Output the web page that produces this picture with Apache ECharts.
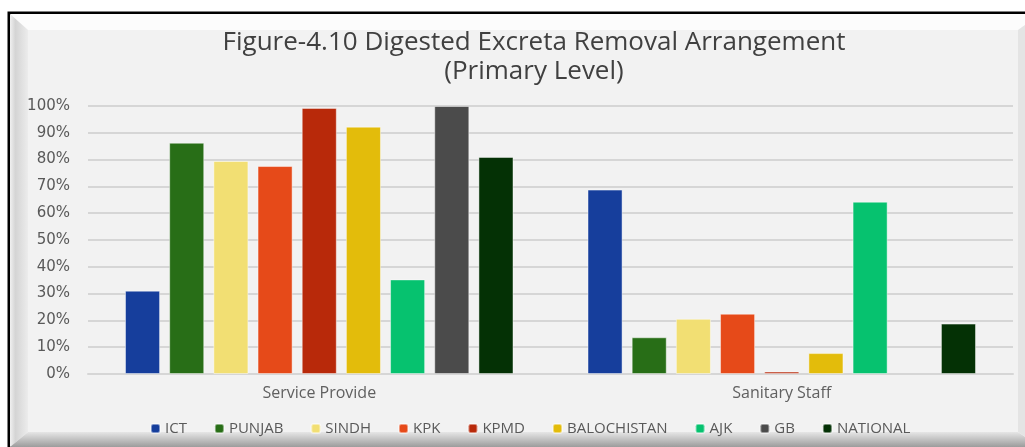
<!DOCTYPE html>
<html>
<head>
<meta charset="utf-8">
<script src="https://cdn.jsdelivr.net/npm/echarts@6/dist/echarts.min.js"></script>
<style>
  html, body { margin: 0; padding: 0; background: #fff; }
  #chart { width: 1025px; height: 447px; }
</style>
</head>
<body>
<div id="chart"></div>
<script>
var categories = ['Service Provide', 'Sanitary Staff'];
var regions = ['ICT', 'PUNJAB', 'SINDH', 'KPK', 'KPMD', 'BALOCHISTAN', 'AJK', 'GB', 'NATIONAL'];
var ictData = [31.1, 68.8];
var punjabData = [86.3, 13.7];
var sindhData = [79.5, 20.6];
var kpkData = [77.6, 22.5];
var kpmdData = [99.3, 0.9];
var balochistanData = [92.3, 7.8];
var ajkData = [35.3, 64.3];
var gbData = [100, '-'];
var nationalData = [81.0, 18.8];
var colors = ['#163e9c', '#286e17', '#f2df73', '#e64a19', '#b8290a', '#e3bc0b', '#06c26f', '#4b4b4b', '#043105'];

var seriesValues = [ictData, punjabData, sindhData, kpkData, kpmdData, balochistanData, ajkData, gbData, nationalData];
var FontColor = '#595959';

var series = [];
for (var i = 0; i < regions.length; i++) {
    series.push({
        name: regions[i],
        type: 'bar',
        data: seriesValues[i],
        barGap: '26%',
        barCategoryGap: '16%',
        itemStyle: {
            color: colors[i],
            borderColor: 'rgba(255,255,255,0.45)',
            borderWidth: 1
        }
    });
}

var option = {
    animation: false,
    backgroundColor: '#ffffff',
    color: colors,
    graphic: [
        // outer frame with bevel
        { type: 'rect', shape: { x: 9, y: 13, width: 1040, height: 440 }, style: { fill: '#f7f7f7', stroke: '#000', lineWidth: 3 }, z: -10 },
        { type: 'polygon', shape: { points: [[10, 14], [1040, 14], [1018, 30], [28, 30]] }, style: { fill: '#fcfcfc' }, z: -9 },
        { type: 'polygon', shape: { points: [[10, 14], [28, 30], [28, 432], [10, 447]] },
          style: { fill: { type: 'linear', x: 0, y: 0, x2: 1, y2: 0, colorStops: [
              { offset: 0, color: '#f0f0f0' }, { offset: 0.3, color: '#d4d4d4' }, { offset: 1, color: '#ececec' }] } }, z: -9 },
        { type: 'polygon', shape: { points: [[10, 447], [28, 432], [1018, 432], [1040, 447]] },
          style: { fill: { type: 'linear', x: 0, y: 0, x2: 0, y2: 1, colorStops: [
              { offset: 0, color: '#e6e6e6' }, { offset: 1, color: '#9c9c9c' }] } }, z: -9 },
        { type: 'polygon', shape: { points: [[1018, 30], [1040, 14], [1040, 447], [1018, 432]] }, style: { fill: '#e4e4e4' }, z: -9 },
        { type: 'rect', shape: { x: 28, y: 30, width: 990, height: 402 }, style: { fill: '#f2f2f2' }, z: -8 },
        // title
        { type: 'text', x: 534, y: 28, z: 10,
          style: { text: 'Figure-4.10 Digested Excreta Removal Arrangement\n(Primary Level)',
                   fill: '#404040', font: '26px "Open Sans"', align: 'center', verticalAlign: 'top', lineHeight: 29 } }
    ],
    grid: { left: 88, right: 12, top: 106, bottom: 73 },
    legend: {
        data: regions,
        top: 416,
        left: 145,
        itemWidth: 9,
        itemHeight: 9,
        itemGap: 27,
        textStyle: { color: FontColor, fontFamily: 'Open Sans', fontSize: 15 }
    },
    xAxis: [{
        type: 'category',
        data: categories,
        axisTick: { show: false },
        axisLine: { lineStyle: { color: '#d6d6d6', width: 2 } },
        axisLabel: { color: '#606060', fontFamily: 'Open Sans', fontSize: 16, margin: 11 }
    }],
    yAxis: [{
        type: 'value',
        min: 0,
        max: 100,
        interval: 10,
        axisLabel: { formatter: '{value}%', color: FontColor, fontFamily: 'DejaVu Sans', fontSize: 15, margin: 18 },
        splitLine: { lineStyle: { color: '#d6d6d6', width: 2 } }
    }],
    series: series
};

var chart = echarts.init(document.getElementById('chart'));
chart.setOption(option);
</script>
</body>
</html>
